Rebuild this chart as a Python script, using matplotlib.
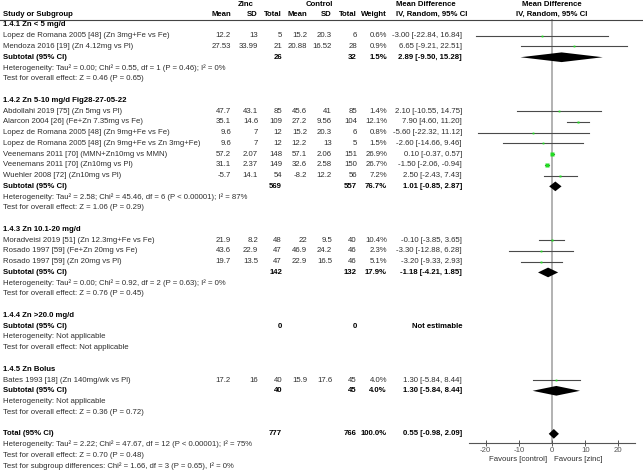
import numpy as np
import matplotlib.pyplot as plt
from matplotlib.transforms import blended_transform_factory

plt.rcParams["font.family"] = ["Liberation Sans", "DejaVu Sans"]
plt.rcParams["axes.unicode_minus"] = False

# -------------------------------------------------------------------------
# DATA
# -------------------------------------------------------------------------
group_titles = [
    "1.4.1 Zn < 5 mg/d",
    "1.4.2 Zn 5-10 mg/d Fig28-27-05-22",
    "1.4.3 Zn 10.1-20 mg/d",
    "1.4.4 Zn >20.0 mg/d",
    "1.4.5 Zn Bolus",
]

study_group = [0, 0, 1, 1, 1, 1, 1, 1, 1, 2, 2, 2, 4]
study_names = [
    "Lopez de Romana 2005 [48] (Zn 3mg+Fe vs Fe)",
    "Mendoza 2016 [19] (Zn 4.12mg vs Pl)",
    "Abdollahi 2019 [75] (Zn 5mg vs Pl)",
    "Alarcon 2004 [26] (Fe+Zn 7.35mg vs Fe)",
    "Lopez de Romana 2005 [48] (Zn 9mg+Fe vs Fe)",
    "Lopez de Romana 2005 [48] (Zn 9mg+Fe vs Zn 3mg+Fe)",
    "Veenemans 2011 [70] (MMN+Zn10mg vs MMN)",
    "Veenemans 2011 [70] (Zn10mg vs Pl)",
    "Wuehler 2008 [72] (Zn10mg vs Pl)",
    "Moradveisi 2019 [51] (Zn 12.3mg+Fe vs Fe)",
    "Rosado 1997 [59] (Fe+Zn 20mg vs Fe)",
    "Rosado 1997 [59] (Zn 20mg vs Pl)",
    "Bates 1993 [18] (Zn 140mg/wk vs Pl)",
]
zinc_mean = [12.2, 27.53, 47.7, 35.1, 9.6, 9.6, 57.2, 31.1, -5.7, 21.9, 43.6, 19.7, 17.2]
zinc_sd = [13, 33.99, 43.1, 14.6, 7, 7, 2.07, 2.37, 14.1, 8.2, 22.9, 13.5, 16]
zinc_n = [5, 21, 85, 109, 12, 12, 148, 149, 54, 48, 47, 47, 40]
ctrl_mean = [15.2, 20.88, 45.6, 27.2, 15.2, 12.2, 57.1, 32.6, -8.2, 22, 46.9, 22.9, 15.9]
ctrl_sd = [20.3, 16.52, 41, 9.56, 20.3, 13, 2.06, 2.58, 12.2, 9.5, 24.2, 16.5, 17.6]
ctrl_n = [6, 28, 85, 104, 6, 5, 151, 150, 56, 40, 46, 46, 45]
weight = [0.6, 0.9, 1.4, 12.1, 0.8, 1.5, 26.9, 26.7, 7.2, 10.4, 2.3, 5.1, 4.0]
md = [-3.00, 6.65, 2.10, 7.90, -5.60, -2.60, 0.10, -1.50, 2.50, -0.10, -3.30, -3.20, 1.30]
md_lo = [-22.84, -9.21, -10.55, 4.60, -22.32, -14.66, -0.37, -2.06, -2.43, -3.85, -12.88, -9.33, -5.84]
md_hi = [16.84, 22.51, 14.75, 11.20, 11.12, 9.46, 0.57, -0.94, 7.43, 3.65, 6.28, 2.93, 8.44]

sub_zinc_n = [26, 569, 142, 0, 40]
sub_ctrl_n = [32, 557, 132, 0, 45]
sub_weight = [1.5, 76.7, 17.9, None, 4.0]
sub_md = [2.89, 1.01, -1.18, None, 1.30]
sub_lo = [-9.50, -0.85, -4.21, None, -5.84]
sub_hi = [15.28, 2.87, 1.85, None, 8.44]
sub_het = [
    "Heterogeneity: Tau\u00b2 = 0.00; Chi\u00b2 = 0.55, df = 1 (P = 0.46); I\u00b2 = 0%",
    "Heterogeneity: Tau\u00b2 = 2.58; Chi\u00b2 = 45.46, df = 6 (P < 0.00001); I\u00b2 = 87%",
    "Heterogeneity: Tau\u00b2 = 0.00; Chi\u00b2 = 0.92, df = 2 (P = 0.63); I\u00b2 = 0%",
    "Heterogeneity: Not applicable",
    "Heterogeneity: Not applicable",
]
sub_test = [
    "Test for overall effect: Z = 0.46 (P = 0.65)",
    "Test for overall effect: Z = 1.06 (P = 0.29)",
    "Test for overall effect: Z = 0.76 (P = 0.45)",
    "Test for overall effect: Not applicable",
    "Test for overall effect: Z = 0.36 (P = 0.72)",
]

total_zinc_n = 777
total_ctrl_n = 766
total_weight = 100.0
total_md, total_lo, total_hi = 0.55, -0.98, 2.09
total_notes = [
    "Heterogeneity: Tau\u00b2 = 2.22; Chi\u00b2 = 47.67, df = 12 (P < 0.00001); I\u00b2 = 75%",
    "Test for overall effect: Z = 0.70 (P = 0.48)",
    "Test for subgroup differences: Chi\u00b2 = 1.66, df = 3 (P = 0.65), I\u00b2 = 0%",
]

x_ticks = [-20, -10, 0, 10, 20]

# -------------------------------------------------------------------------
# LAYOUT
# -------------------------------------------------------------------------
W, H = 643, 470
ROW0, ROWH = 14.2, 10.76          # pixel y of row 0 and row height


def row_of(py):
    return (py - ROW0) / ROWH


fig = plt.figure(figsize=(W / 100, H / 100), dpi=100)
ax = fig.add_axes([469 / W, 1 - 443 / H, 166 / W, (443 - 19) / H])
ax.set_xlim(-25, 25)
ax.set_ylim(row_of(443), row_of(19))

tr = blended_transform_factory(fig.transFigure, ax.transData)

FS = 5.6
GREY = "#2e2e2e"

# column right edges (pixels)
c_name = 3
c_cols = [231, 258, 282, 307, 332, 357, 387]
c_md = 462
c_md_left = 396


def put(px, row, s, ha="right", bold=False, color=None):
    ax.text(px / W, row, s, transform=tr, ha=ha, va="center", fontsize=FS,
            fontweight="bold" if bold else "normal",
            color=color or ("black" if bold else GREY), clip_on=False)


def diamond(lo, mid, hi, row, h=0.45):
    ax.fill([lo, mid, hi, mid], [row, row - h, row, row + h], color="black", lw=0,
            clip_on=False, zorder=4)


# header
put(246, row_of(4.7), "Zinc", ha="center", bold=True)
put(319, row_of(4.7), "Control", ha="center", bold=True)
put(c_md_left, row_of(4.7), "Mean Difference", ha="left", bold=True)
put(552, row_of(4.7), "Mean Difference", ha="center", bold=True)
put(c_name, 0, "Study or Subgroup", ha="left", bold=True)
for px, s in zip(c_cols, ["Mean", "SD", "Total", "Mean", "SD", "Total", "Weight"]):
    put(px, 0, s, bold=True)
put(c_md_left, 0, "IV, Random, 95% CI", ha="left", bold=True)
put(552, 0, "IV, Random, 95% CI", ha="center", bold=True)
fig.add_artist(plt.Line2D([0, 1], [1 - 19.5 / H, 1 - 19.5 / H], color="#444444", lw=0.8))

# zero line
ax.axvline(0, color="#a6a6a6", lw=1.2, zorder=0)

# body
row = 1
for g, title in enumerate(group_titles):
    put(c_name, row, title, ha="left", bold=True)
    row += 1
    for i in [k for k, sg in enumerate(study_group) if sg == g]:
        put(c_name, row, study_names[i], ha="left")
        vals = [f"{zinc_mean[i]:g}", f"{zinc_sd[i]:g}", f"{zinc_n[i]}",
                f"{ctrl_mean[i]:g}", f"{ctrl_sd[i]:g}", f"{ctrl_n[i]}",
                f"{weight[i]:.1f}%"]
        for px, s in zip(c_cols, vals):
            put(px, row, s)
        put(c_md, row, f"{md[i]:.2f} [{md_lo[i]:.2f}, {md_hi[i]:.2f}]")
        ax.plot([md_lo[i], md_hi[i]], [row, row], color="#4a4a4a", lw=0.8,
                clip_on=False, zorder=2)
        ax.plot(md[i], row, marker="s", color="#22dd22", mec="none",
                markersize=max(0.6 * np.sqrt(weight[i]), 1.3), zorder=3)
        row += 1
    put(c_name, row, "Subtotal (95% CI)", ha="left", bold=True)
    put(c_cols[2], row, f"{sub_zinc_n[g]}", bold=True)
    put(c_cols[5], row, f"{sub_ctrl_n[g]}", bold=True)
    if sub_md[g] is None:
        put(c_md, row, "Not estimable", bold=True)
    else:
        put(c_cols[6], row, f"{sub_weight[g]:.1f}%", bold=True)
        put(c_md, row, f"{sub_md[g]:.2f} [{sub_lo[g]:.2f}, {sub_hi[g]:.2f}]", bold=True)
        diamond(sub_lo[g], sub_md[g], sub_hi[g], row)
    row += 1
    put(c_name, row, sub_het[g], ha="left")
    row += 1
    put(c_name, row, sub_test[g], ha="left")
    row += 2

# total
put(c_name, row, "Total (95% CI)", ha="left", bold=True)
put(c_cols[2], row, f"{total_zinc_n}", bold=True)
put(c_cols[5], row, f"{total_ctrl_n}", bold=True)
put(c_cols[6], row, f"{total_weight:.1f}%", bold=True)
put(c_md, row, f"{total_md:.2f} [{total_lo:.2f}, {total_hi:.2f}]", bold=True)
diamond(total_lo, total_md, total_hi, row)
for k, s in enumerate(total_notes):
    put(c_name, row + 1 + k, s, ha="left")

# axis
for side in ["top", "left", "right"]:
    ax.spines[side].set_visible(False)
ax.spines["bottom"].set_color("#555555")
ax.spines["bottom"].set_linewidth(0.8)
ax.set_yticks([])
ax.set_xticks(x_ticks)
ax.tick_params(axis="x", labelsize=FS, colors="#555555", direction="inout",
               length=4, width=0.7, pad=1.2)
ax.patch.set_alpha(0)

ax.text(-1.5, row_of(459.5), "Favours [control]", ha="right", va="center",
        fontsize=FS, color=GREY, clip_on=False)
ax.text(0.6, row_of(459.5), "Favours [zinc]", ha="left", va="center",
        fontsize=FS, color=GREY, clip_on=False)

fig.savefig("out.png", dpi=100, facecolor="white")
